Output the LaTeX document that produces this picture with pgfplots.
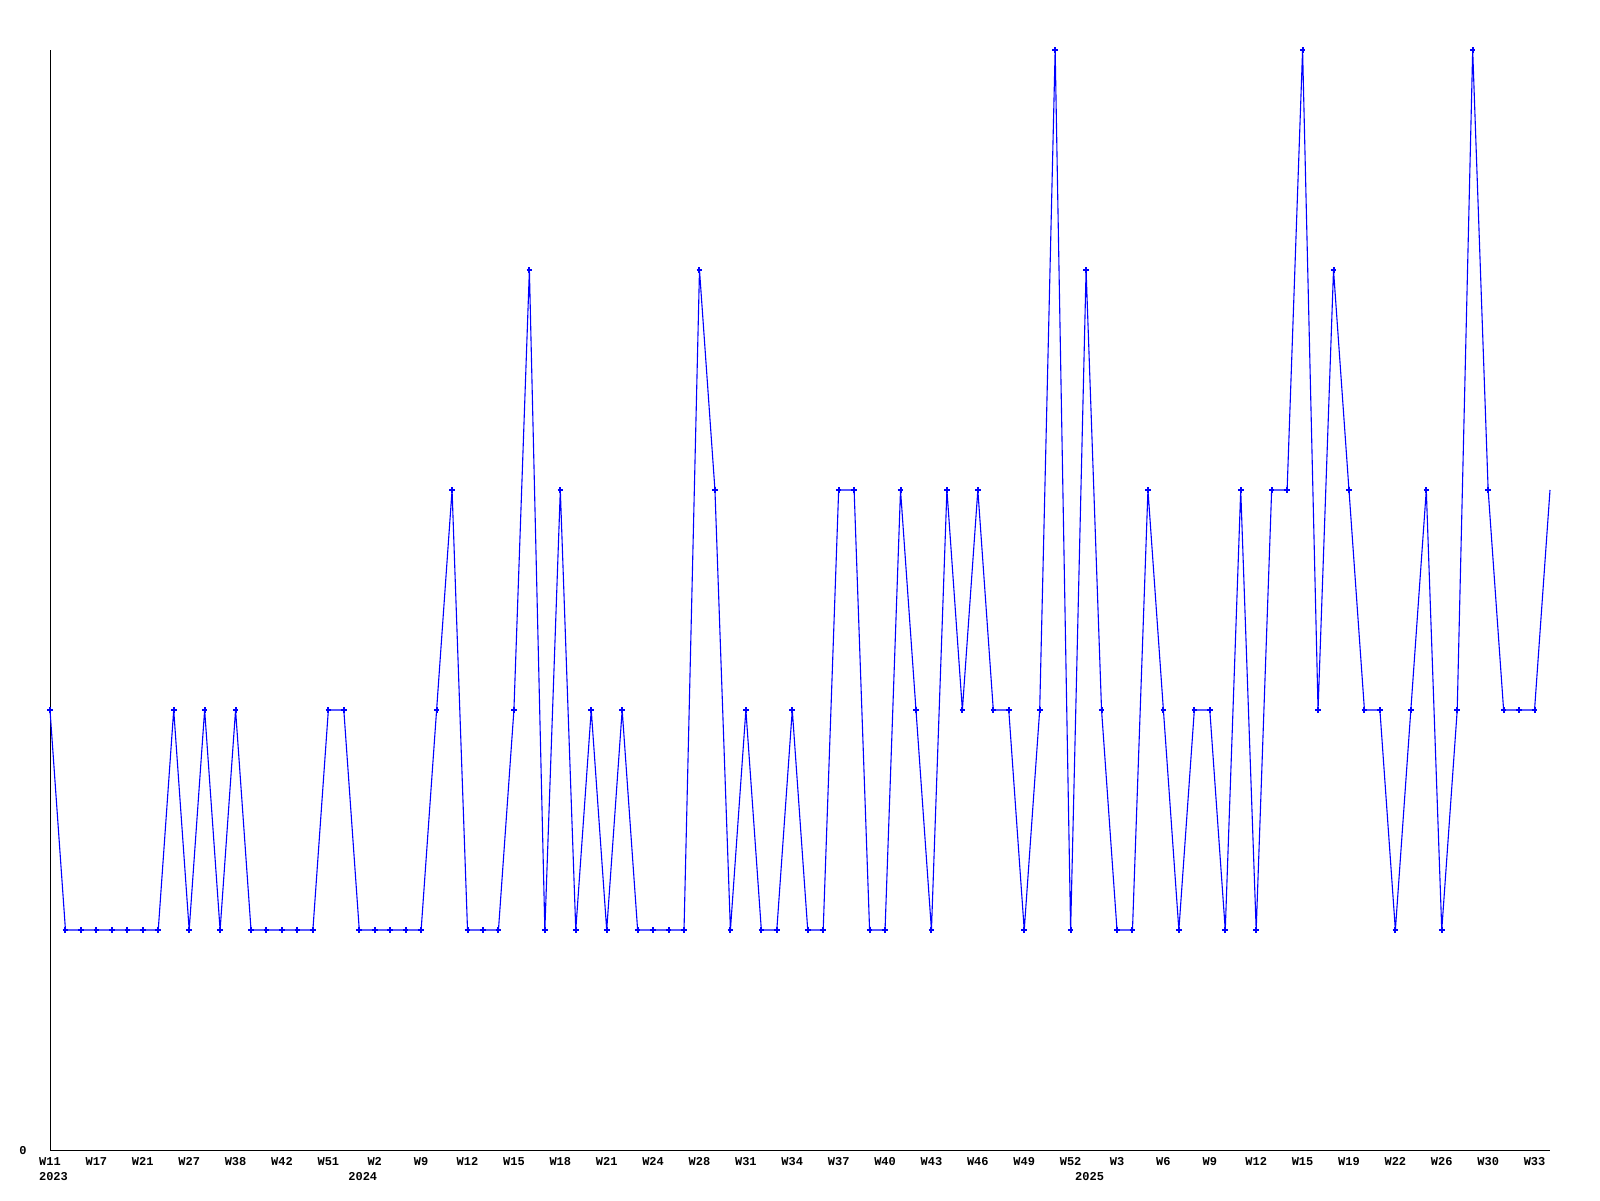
\documentclass[border=0pt]{standalone}
\usepackage{pgfplots}
\pgfplotsset{compat=1.18}
\usepackage{fontspec}
\setmainfont{Liberation Mono}
\begin{document}
\begin{tikzpicture}
\path[use as bounding box] (0,0) rectangle (800pt,600pt);
\begin{axis}[
  at={(25pt,25pt)}, anchor=south west,
  scale only axis, width=750pt, height=550pt,
  xmin=0, xmax=97, ymin=0, ymax=5,
  enlargelimits=false, clip=false,
  axis x line*=bottom, axis y line*=left,
  axis line style={-, black, line width=0.5pt},
  major tick length=0pt,
  xtick={0,3,...,96},
  xticklabels={W11,W17,W21,W27,W38,W42,W51,W2,W9,W12,W15,W18,W21,W24,W28,W31,W34,W37,W40,W43,W46,W49,W52,W3,W6,W9,W12,W15,W19,W22,W26,W30,W33},
  ytick={0},
  /pgf/number format/assume math mode=true,
  ticklabel style={font=\fontsize{6}{7}\selectfont\bfseries, inner sep=0pt},
  xticklabel style={anchor=base, yshift=-7.5pt},
  yticklabel style={anchor=base, xshift=-13.5pt, yshift=-2pt},
]
\addplot[blue, line width=0.55pt, mark=+, mark size=1.4pt, mark options={line width=1pt}, mark indices={1,...,97}]
coordinates {
(0,2)(1,1)(2,1)(3,1)(4,1)(5,1)(6,1)(7,1)(8,2)(9,1)
(10,2)(11,1)(12,2)(13,1)(14,1)(15,1)(16,1)(17,1)(18,2)(19,2)
(20,1)(21,1)(22,1)(23,1)(24,1)(25,2)(26,3)(27,1)(28,1)(29,1)
(30,2)(31,4)(32,1)(33,3)(34,1)(35,2)(36,1)(37,2)(38,1)(39,1)
(40,1)(41,1)(42,4)(43,3)(44,1)(45,2)(46,1)(47,1)(48,2)(49,1)
(50,1)(51,3)(52,3)(53,1)(54,1)(55,3)(56,2)(57,1)(58,3)(59,2)
(60,3)(61,2)(62,2)(63,1)(64,2)(65,5)(66,1)(67,4)(68,2)(69,1)
(70,1)(71,3)(72,2)(73,1)(74,2)(75,2)(76,1)(77,3)(78,1)(79,3)
(80,3)(81,5)(82,2)(83,4)(84,3)(85,2)(86,2)(87,1)(88,2)(89,3)
(90,1)(91,2)(92,5)(93,3)(94,2)(95,2)(96,2)(97,3)
};
\node[font=\fontsize{6}{7}\selectfont\bfseries, inner sep=0pt, anchor=base] at (axis cs:0,0) [xshift=1.75pt, yshift=-15pt] {2023};
\node[font=\fontsize{6}{7}\selectfont\bfseries, inner sep=0pt, anchor=base] at (axis cs:20,0) [xshift=1.75pt, yshift=-15pt] {2024};
\node[font=\fontsize{6}{7}\selectfont\bfseries, inner sep=0pt, anchor=base] at (axis cs:67,0) [xshift=1.75pt, yshift=-15pt] {2025};
\end{axis}
\end{tikzpicture}
\end{document}
